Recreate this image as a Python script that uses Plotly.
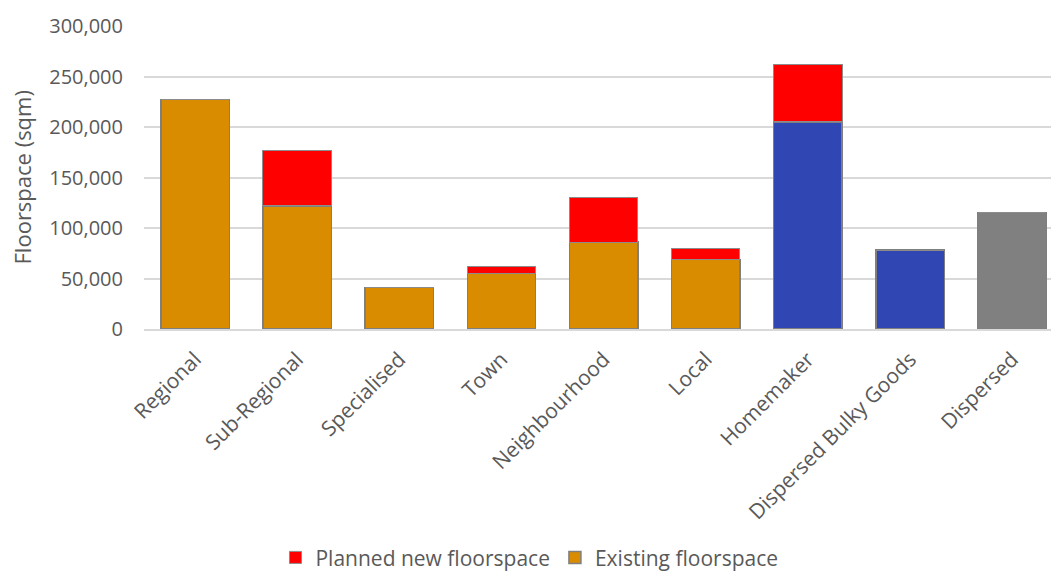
import plotly.graph_objects as go

categories = ["Regional", "Sub-Regional", "Specialised", "Town", "Neighbourhood",
              "Local", "Homemaker", "Dispersed Bulky Goods", "Dispersed"]
existing = [227000, 122000, 41000, 55000, 86000, 69000, 205000, 78000, 115000]
planned = [0, 55000, 0, 7000, 44000, 11000, 57000, 0, 0]
existing_colors = ["#D98C00"] * 6 + ["#2F46B3", "#2F46B3", "#808080"]

fig = go.Figure()
fig.add_trace(go.Bar(
    x=categories, y=existing, name="Existing floorspace",
    marker=dict(color=existing_colors, line=dict(color="#7F7F7F", width=1.5)),
))
fig.add_trace(go.Bar(
    x=categories, y=planned, name="Planned new floorspace",
    marker=dict(color="#FF0000", line=dict(color="#8C8C8C", width=1)),
))

font = "'Open Sans', sans-serif"
fig.update_layout(
    barmode="stack",
    bargap=0.33,
    width=1051, height=573,
    margin=dict(l=144, r=0, t=26, b=244, autoexpand=False),
    plot_bgcolor="white", paper_bgcolor="white",
    font=dict(family=font, color="#595959", size=19),
    showlegend=True,
    legend=dict(orientation="h", traceorder="reversed", x=0.425, xanchor="center",
                y=-0.755, yanchor="middle", font=dict(size=21, color="#595959"),
                itemwidth=30),
    xaxis=dict(range=[-0.5, 8.38], tickangle=-45, showline=True,
               linecolor="#D9D9D9", linewidth=1.5, ticks="",
               ticklabelstandoff=8,
               tickfont=dict(size=21, color="#595959")),
    yaxis=dict(range=[0, 300000], dtick=50000, tickformat=",d",
               gridcolor="#D9D9D9", gridwidth=1.5, zeroline=False,
               ticklabelstandoff=20,
               tickfont=dict(size=20, color="#595959")),
    annotations=[dict(text="Floorspace (sqm)", textangle=-90, showarrow=False,
                      xref="paper", yref="paper", x=(21 - 144) / 907, y=0.5,
                      xanchor="center", yanchor="middle",
                      font=dict(size=22, color="#595959"))],
)
fig.write_html("out.html")
